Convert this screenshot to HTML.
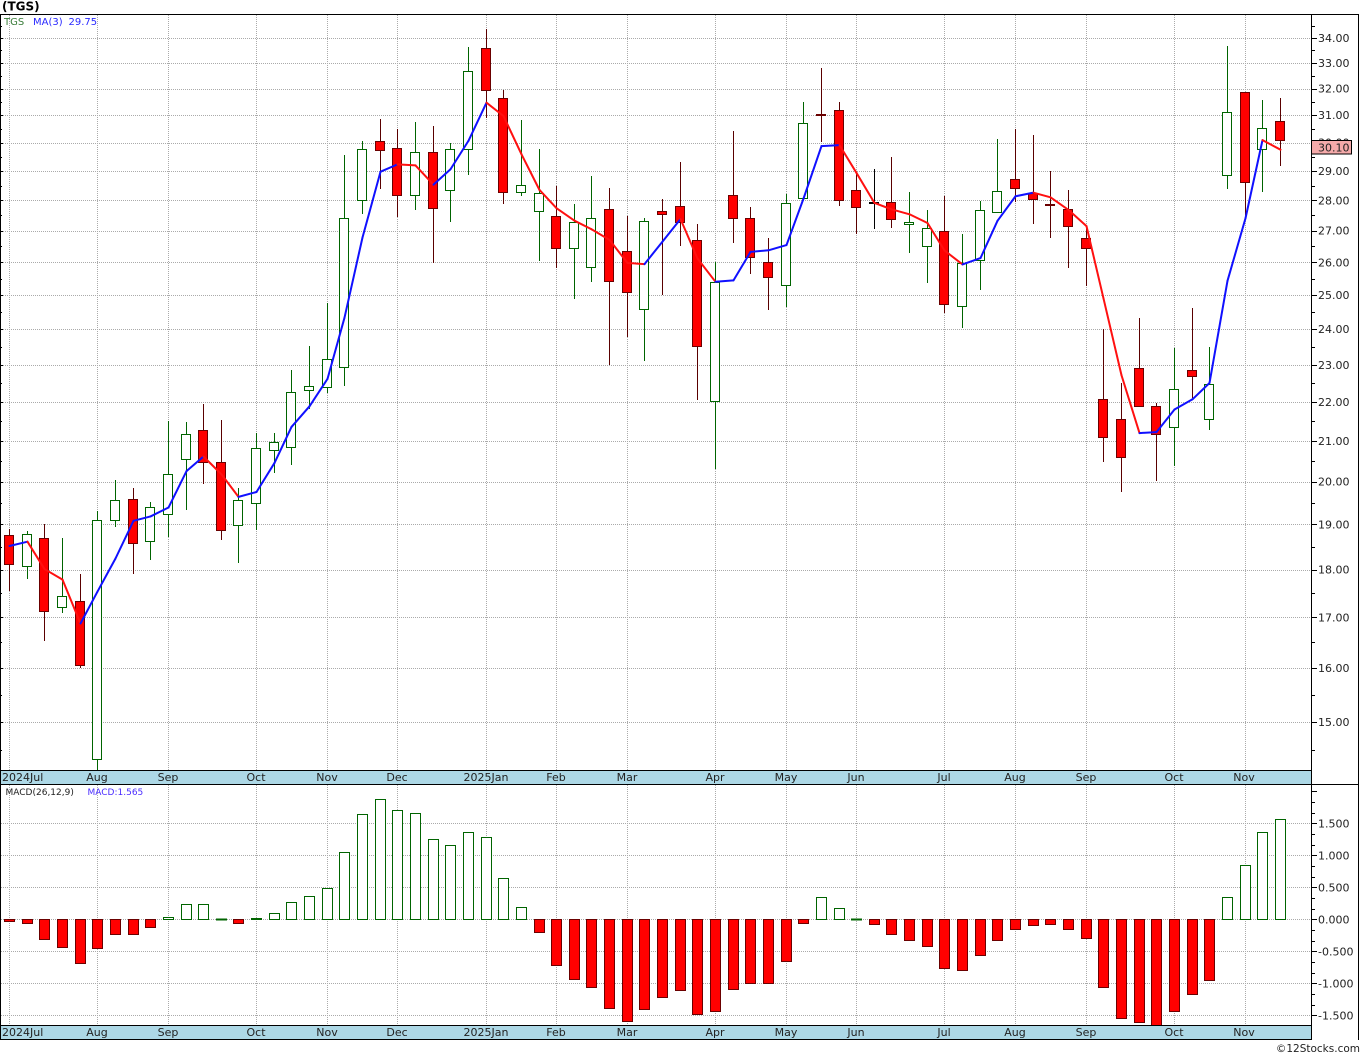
<!DOCTYPE html>
<html><head><meta charset="utf-8">
<style>
html,body{margin:0;padding:0;background:#fff;}
svg{display:block;}
text{font-family:"DejaVu Sans","Liberation Sans",sans-serif;}
</style></head><body>
<svg id="c" width="1360" height="1056" viewBox="0 0 1360 1056" xmlns="http://www.w3.org/2000/svg">
<rect width="1360" height="1056" fill="#fff"/>
<g id="grid"></g>
<g id="candles"></g>
<g id="ma"></g>
<g id="macd"></g>
<g id="ticks"></g>

<!-- date strips -->
<rect x="0.5" y="770.5" width="1311" height="14" fill="#add8e6" stroke="#000" stroke-width="1"/>
<rect x="0.5" y="1025.5" width="1311" height="14" fill="#add8e6" stroke="#000" stroke-width="1"/>

<!-- borders -->
<line x1="0" y1="14.5" x2="1359" y2="14.5" stroke="#000" stroke-width="1"/>
<line x1="0" y1="784.5" x2="1359" y2="784.5" stroke="#000" stroke-width="1"/>
<line x1="0.5" y1="14" x2="0.5" y2="1040" stroke="#000" stroke-width="1"/>
<line x1="1311.5" y1="14" x2="1311.5" y2="1040" stroke="#000" stroke-width="1"/>
<line x1="1358.5" y1="14" x2="1358.5" y2="1040" stroke="#000" stroke-width="1"/>

<!-- title & legends -->
<text x="2" y="10.5" font-size="12" font-weight="bold" fill="#000">(TGS)</text>
<text x="4" y="25" font-size="10" fill="#3a7d3a">TGS</text>
<text x="33" y="25" font-size="10" fill="#2a2aff">MA(3)</text>
<text x="68.5" y="25" font-size="10" fill="#2a2aff">29.75</text>
<text x="5.5" y="795" font-size="9" fill="#222">MACD(26,12,9)</text>
<text x="87.5" y="795" font-size="9" fill="#4a2cff">MACD:1.565</text>

<!-- price axis labels -->
<g font-size="11" fill="#222">
<text x="1318" y="42">34.00</text>
<text x="1318" y="67">33.00</text>
<text x="1318" y="92.7">32.00</text>
<text x="1318" y="119.2">31.00</text>
<text x="1318" y="146.6">30.00</text>
<text x="1318" y="175">29.00</text>
<text x="1318" y="204.3">28.00</text>
<text x="1318" y="234.7">27.00</text>
<text x="1318" y="266.3">26.00</text>
<text x="1318" y="299.1">25.00</text>
<text x="1318" y="333.2">24.00</text>
<text x="1318" y="368.8">23.00</text>
<text x="1318" y="405.9">22.00</text>
<text x="1318" y="444.8">21.00</text>
<text x="1318" y="485.6">20.00</text>
<text x="1318" y="528.5">19.00</text>
<text x="1318" y="573.7">18.00</text>
<text x="1318" y="621.5">17.00</text>
<text x="1318" y="672.2">16.00</text>
<text x="1318" y="726.1">15.00</text>
</g>
<rect x="1311.5" y="140.5" width="40" height="13.5" fill="#f5aaaa" stroke="#000" stroke-width="1"/>
<text x="1318" y="151.5" font-size="11" fill="#222">30.10</text>

<!-- macd axis labels -->
<g font-size="11" fill="#222">
<text x="1318" y="827.3">1.500</text>
<text x="1318" y="859.3">1.000</text>
<text x="1318" y="891.3">0.500</text>
<text x="1318" y="923.3">0.000</text>
<text x="1318" y="955.3">-0.500</text>
<text x="1318" y="987.3">-1.000</text>
<text x="1318" y="1019.3">-1.500</text>
</g>

<!-- date labels top -->
<g font-size="11" fill="#222" text-anchor="middle">
<text x="2" y="781" text-anchor="start">2024Jul</text>
<text x="97" y="781">Aug</text>
<text x="168" y="781">Sep</text>
<text x="256" y="781">Oct</text>
<text x="327" y="781">Nov</text>
<text x="397" y="781">Dec</text>
<text x="486" y="781">2025Jan</text>
<text x="556" y="781">Feb</text>
<text x="627" y="781">Mar</text>
<text x="715" y="781">Apr</text>
<text x="786" y="781">May</text>
<text x="856" y="781">Jun</text>
<text x="944" y="781">Jul</text>
<text x="1015" y="781">Aug</text>
<text x="1086" y="781">Sep</text>
<text x="1174" y="781">Oct</text>
<text x="1244" y="781">Nov</text>
</g>
<!-- date labels bottom -->
<g font-size="11" fill="#222" text-anchor="middle">
<text x="2" y="1036" text-anchor="start">2024Jul</text>
<text x="97" y="1036">Aug</text>
<text x="168" y="1036">Sep</text>
<text x="256" y="1036">Oct</text>
<text x="327" y="1036">Nov</text>
<text x="397" y="1036">Dec</text>
<text x="486" y="1036">2025Jan</text>
<text x="556" y="1036">Feb</text>
<text x="627" y="1036">Mar</text>
<text x="715" y="1036">Apr</text>
<text x="786" y="1036">May</text>
<text x="856" y="1036">Jun</text>
<text x="944" y="1036">Jul</text>
<text x="1015" y="1036">Aug</text>
<text x="1086" y="1036">Sep</text>
<text x="1174" y="1036">Oct</text>
<text x="1244" y="1036">Nov</text>
</g>

<text x="1360" y="1052" font-size="10.5" fill="#222" text-anchor="end">©12Stocks.com</text>
</svg>
<script>
(function(){
var NS="http://www.w3.org/2000/svg";
function el(tag,a,p){var e=document.createElementNS(NS,tag);for(var k in a)e.setAttribute(k,a[k]);p.appendChild(e);return e;}
var C=[
['R',529,535,564,591],['G',531,534,566,579],['R',524,538,611,641],['G',538,596,607,613],['R',574,601,665,668],
['G',511,520,759,770],['G',480,500,520,527],['R',488,499,543,574],['G',502,507,541,560],['G',421,474,514,537],
['G',422,434,459,510],['R',404,430,462,484],['R',420,462,530,540],['G',488,500,525,563],['G',433,448,503,530],
['G',433,442,450,473],['G',370,392,447,465],['G',346,386,390,409],['G',303,359,387,393],['G',155,218,367,386],
['G',141,149,200,214],['R',119,141,150,189],['R',129,148,195,217],['G',122,152,195,210],['R',126,152,208,263],
['G',143,149,190,222],['G',47,71,149,175],['R',29,48,90,118],['R',90,98,192,204],['G',120,185,192,196],
['G',149,193,211,261],['R',186,216,248,268],['G',204,222,248,299],['G',176,218,267,282],['R',188,209,281,365],
['R',216,251,292,337],['G',218,221,309,361],['R',199,211,214,295],['R',162,206,222,246],['R',224,240,346,400],
['G',262,282,401,469],['R',131,195,218,243],['R',207,218,257,274],['R',238,262,277,310],['G',194,203,285,307],
['G',102,123,198,198],['R',68,114,115,142],['R',102,110,200,206],['R',172,190,207,234],['K',169,202,203,229],
['R',157,202,219,228],['G',192,222,224,253],['G',210,228,246,283],['R',196,231,304,313],['G',234,263,306,328],
['G',201,210,260,290],['G',139,191,212,212],['R',129,179,188,202],['R',135,193,199,224],['R',171,204,205,238],
['R',190,209,226,268],['R',227,238,248,286],['R',329,399,437,462],['R',383,419,457,492],['R',318,368,406,406],
['R',403,406,434,481],['G',348,389,427,466],['R',308,370,376,398],['G',347,384,419,430],['G',46,112,175,189],
['R',92,92,182,216],['G',100,128,149,192],['R',98,121,140,166]
];
var M=[-0.02,-0.0625,-0.3125,-0.4375,-0.6875,-0.453,-0.234,-0.234,-0.125,0.03,
0.234,0.234,0.0,-0.0625,0.026,0.094,0.27,0.36,0.484,1.047,
1.64,1.875,1.703,1.656,1.25,1.156,1.36,1.28,0.64,0.1875,
-0.203,-0.719,-0.9375,-1.0625,-1.39,-1.594,-1.406,-1.219,-1.11,-1.484,
-1.4375,-1.094,-1.0,-1.0,-0.656,-0.0625,0.344,0.172,0.01,-0.078,
-0.234,-0.328,-0.42,-0.766,-0.797,-0.5625,-0.328,-0.156,-0.094,-0.078,
-0.156,-0.297,-1.0625,-1.547,-1.61,-1.7,-1.4375,-1.17,-0.953,0.344,
0.844,1.36,1.5625];
function cx(i){return Math.round(9+17.65*i);}
function yP(p){return 38+836*Math.log(34/p);}
function pY(y){return 34*Math.exp(-(y-38)/836);}
var grid=document.getElementById('grid');
var gs={stroke:'#aaa','stroke-width':1,'stroke-dasharray':'1,1'};
function gl(x1,y1,x2,y2){var a={x1:x1,y1:y1,x2:x2,y2:y2};for(var k in gs)a[k]=gs[k];el('line',a,grid);}
for(var p=15;p<=34;p++){var y=Math.round(yP(p))+0.5;gl(1,y,1311,y);}
for(var k=-3;k<=3;k++){var y=Math.round(919.3-64*k*0.5)+0.5;gl(1,y,1311,y);}
[0,5,9,14,18,22,27,31,35,40,44,48,53,57,61,66,70].forEach(function(i){var x=cx(i)+0.5;gl(x,15,x,770);gl(x,785,x,1025);});
// ticks
var tk=document.getElementById('ticks');
for(var p2=14.5;p2<=35;p2+=0.5){var y=yP(p2);if(y>15&&y<770){y=Math.round(y)+0.5;var big=(Math.abs(p2-Math.round(p2))<0.01);el('line',{x1:1311,y1:y,x2:big?1317:1315,y2:y,stroke:'#000','stroke-width':1},tk);el('line',{x1:0,y1:y,x2:big?3:2,y2:y,stroke:'#000','stroke-width':1},tk);}}
for(var k2=-12;k2<=14;k2++){var v=k2/6;var y=919.3-64*v;if(y>785&&y<1025){y=Math.round(y)+0.5;el('line',{x1:1311,y1:y,x2:(k2%3===0)?1317:1315,y2:y,stroke:'#000','stroke-width':1},tk);}}
// candles
var g=document.getElementById('candles');
C.forEach(function(d,i){
  var x=cx(i),t=d[0],wc,fill,sc;
  if(t==='G'){wc='#006400';fill='#fff';sc='#006400';}
  else if(t==='K'){wc='#000';fill='#000';sc='#000';}
  else {wc='#5a0000';fill='#ff0000';sc='#6b0000';}
  if(d[4]-d[1]>0.5) el('line',{x1:x+0.5,y1:d[1],x2:x+0.5,y2:d[4],stroke:wc,'stroke-width':1},g);
  var bt=Math.round(d[2])+0.5,bb=Math.round(d[3])+0.5;var h=bb-bt;if(h<1)h=1;
  el('rect',{x:x-4.5,y:bt,width:9,height:h,fill:fill,stroke:sc,'stroke-width':1},g);
});
// MA
var ma=document.getElementById('ma');
var cl=C.map(function(d){return d[0]==='G'||d[0]==='K'?d[2]:d[3];});
var my=[546,541.7];
for(var i=2;i<C.length;i++){var a=(pY(cl[i-2])+pY(cl[i-1])+pY(cl[i]))/3;my.push(yP(a));}
for(var j=1;j<my.length;j++){
  var col=my[j]<=my[j-1]?'#1010ff':'#ff1010';
  el('line',{x1:cx(j-1)+0.5,y1:my[j-1],x2:cx(j)+0.5,y2:my[j],stroke:col,'stroke-width':2,'stroke-linecap':'round'},ma);
}
// MACD
var mg=document.getElementById('macd');
M.forEach(function(v,i){
  var x=cx(i);var y0=919.5;var y=919.3-64*v;if(y<785)y=785;if(y>1025)y=1025;y=Math.round(y)+0.5;
  if(Math.abs(y-y0)<1){el('line',{x1:x-5,y1:y0,x2:x+6,y2:y0,stroke:v<0?'#6b0000':'#006400','stroke-width':2},mg);return;}
  if(v>=0) el('rect',{x:x-4.5,y:y,width:10,height:y0-y,fill:'#fff',stroke:'#006400','stroke-width':1},mg);
  else el('rect',{x:x-4.5,y:y0,width:10,height:y-y0,fill:'#ff0000',stroke:'#6b0000','stroke-width':1},mg);
});
})();
</script>
</body></html>
